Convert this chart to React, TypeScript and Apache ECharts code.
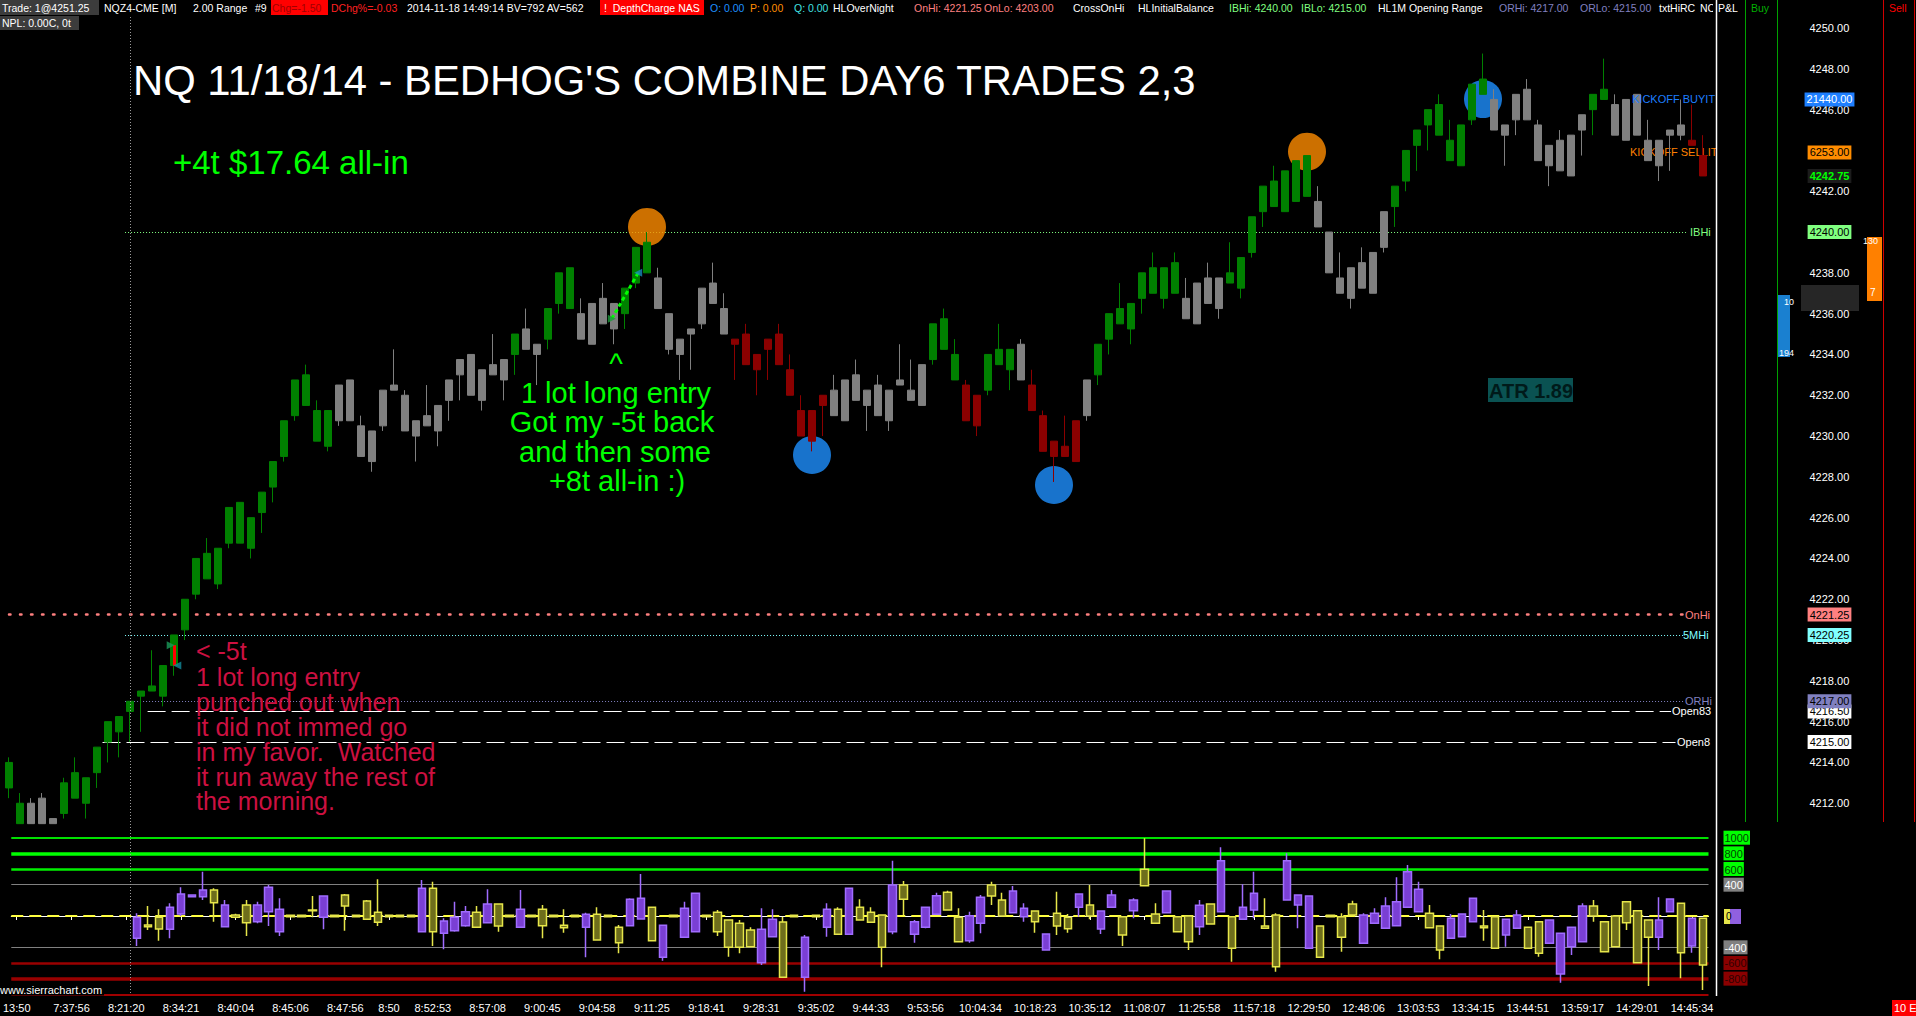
import React, { useEffect, useRef } from "react";
import * as echarts from "echarts";

const FONT = "'Liberation Sans', Arial, Helvetica, sans-serif";

// ---------- categories / tick labels ----------
const barIndex: string[] = Array.from({ length: 155 }, (_, i) => String(i));
const tickBars = [0, 5, 10, 15, 20, 25, 30, 34, 38, 43, 48, 53, 58, 63, 68, 73, 78, 83, 88, 93, 98, 103, 108, 113, 118, 123, 128, 133, 138, 143, 148, 153];
const tickLabels = ["13:50", "7:37:56", "8:21:20", "8:34:21", "8:40:04", "8:45:06", "8:47:56", "8:50", "8:52:53", "8:57:08", "9:00:45", "9:04:58", "9:11:25", "9:18:41", "9:28:31", "9:35:02", "9:44:33", "9:53:56", "10:04:34", "10:18:23", "10:35:12", "11:08:07", "11:25:58", "11:57:18", "12:29:50", "12:48:06", "13:03:53", "13:34:15", "13:44:51", "13:59:17", "14:29:01", "14:45:34"];

// ---------- main 2.00 range bars: [open, close, low, high] (visible part) ----------
const mainOHLC: number[][] = [
  [4212.75, 4214.0, 4212.25, 4214.25], [4211.0, 4212.0, 4211.0, 4212.5], [4212.0, 4211.0, 4211.0, 4212.25], [4212.25, 4211.0, 4211.0, 4212.5],
  [4211.25, 4211.0, 4211.0, 4211.25], [4211.5, 4213.0, 4211.25, 4213.25], [4212.25, 4213.5, 4212.25, 4214.25], [4212.0, 4213.25, 4211.25, 4213.25],
  [4213.5, 4214.75, 4212.75, 4214.75], [4215.0, 4216.0, 4214.0, 4216.0], [4215.5, 4216.25, 4214.25, 4216.25], [4216.5, 4217.0, 4215.0, 4217.0],
  [4217.25, 4217.5, 4215.5, 4217.5], [4217.5, 4217.75, 4217.5, 4219.5], [4217.25, 4218.75, 4216.75, 4218.75], [4218.75, 4220.25, 4218.25, 4220.25],
  [4220.5, 4222.0, 4220.0, 4222.0], [4222.25, 4224.0, 4222.0, 4224.0], [4223.0, 4224.25, 4223.0, 4225.0], [4222.75, 4224.5, 4222.5, 4224.5],
  [4224.75, 4226.5, 4224.5, 4226.5], [4224.75, 4226.75, 4224.75, 4226.75], [4224.5, 4226.0, 4224.0, 4226.0], [4226.25, 4227.25, 4225.25, 4227.25],
  [4227.5, 4228.75, 4226.75, 4228.75], [4229.0, 4230.75, 4228.75, 4230.75], [4231.0, 4232.75, 4230.75, 4232.75], [4231.5, 4233.0, 4231.5, 4233.5],
  [4229.75, 4231.25, 4229.75, 4231.75], [4229.5, 4231.25, 4229.25, 4231.25], [4232.5, 4230.75, 4230.5, 4232.5], [4232.75, 4230.75, 4230.75, 4232.75],
  [4230.5, 4229.0, 4229.0, 4231.0], [4230.25, 4228.75, 4228.25, 4230.25], [4232.25, 4230.5, 4230.25, 4232.25], [4232.5, 4232.25, 4232.25, 4234.25],
  [4232.0, 4230.25, 4230.25, 4232.25], [4230.75, 4230.0, 4228.75, 4230.75], [4231.0, 4230.5, 4230.5, 4232.5], [4231.5, 4230.25, 4229.5, 4231.5],
  [4232.75, 4231.75, 4230.75, 4232.75], [4233.75, 4233.0, 4231.75, 4233.75], [4234.0, 4232.0, 4232.0, 4234.0], [4233.25, 4231.75, 4231.25, 4233.25],
  [4233.5, 4233.0, 4233.0, 4235.0], [4233.75, 4232.75, 4231.75, 4233.75], [4234.0, 4235.0, 4233.0, 4235.0], [4235.25, 4234.25, 4234.25, 4236.25],
  [4234.5, 4234.0, 4232.5, 4234.5], [4234.75, 4236.25, 4234.25, 4236.25], [4236.5, 4238.0, 4236.0, 4238.0], [4236.25, 4238.25, 4236.25, 4238.25],
  [4236.0, 4234.75, 4234.75, 4236.75], [4236.5, 4234.5, 4234.5, 4236.5], [4236.75, 4235.5, 4235.5, 4237.5], [4236.5, 4235.25, 4234.5, 4236.5],
  [4236.0, 4237.25, 4235.25, 4237.25], [4237.5, 4239.25, 4237.25, 4239.25], [4238.0, 4239.5, 4238.0, 4240.0], [4237.75, 4236.25, 4236.25, 4238.25],
  [4236.0, 4234.25, 4234.0, 4236.0], [4234.75, 4234.0, 4232.75, 4234.75], [4235.25, 4235.0, 4233.25, 4235.25], [4237.25, 4235.5, 4235.25, 4237.25],
  [4237.5, 4236.5, 4236.5, 4238.5], [4236.25, 4235.0, 4235.0, 4237.0], [4234.75, 4234.5, 4232.75, 4234.75], [4235.0, 4233.5, 4233.5, 4235.5],
  [4234.0, 4233.25, 4232.0, 4234.0], [4234.75, 4234.25, 4232.75, 4234.75], [4235.0, 4233.5, 4233.5, 4235.5], [4233.25, 4232.0, 4232.0, 4234.0],
  [4231.25, 4230.0, 4230.0, 4232.0], [4231.25, 4229.75, 4229.25, 4231.25], [4232.0, 4231.5, 4230.0, 4232.0], [4232.25, 4231.0, 4231.0, 4233.0],
  [4232.75, 4230.75, 4230.75, 4232.75], [4233.0, 4231.75, 4231.75, 4233.75], [4232.25, 4231.5, 4230.25, 4232.25], [4232.5, 4231.0, 4231.0, 4233.0],
  [4232.25, 4230.75, 4230.25, 4232.25], [4232.75, 4232.5, 4232.5, 4234.5], [4232.25, 4231.75, 4231.75, 4233.75], [4233.5, 4231.5, 4231.5, 4233.5],
  [4233.75, 4235.5, 4233.5, 4235.5], [4234.25, 4235.75, 4234.25, 4236.25], [4232.75, 4234.0, 4232.75, 4234.75], [4232.5, 4230.75, 4230.75, 4232.75],
  [4232.0, 4230.5, 4230.0, 4232.0], [4232.25, 4234.0, 4232.0, 4234.0], [4233.5, 4234.25, 4233.5, 4235.5], [4233.25, 4234.25, 4232.25, 4234.25],
  [4234.5, 4232.75, 4232.75, 4234.75], [4232.5, 4231.25, 4231.25, 4233.25], [4231.0, 4229.25, 4229.25, 4231.25], [4229.75, 4229.0, 4227.75, 4229.75],
  [4229.5, 4229.0, 4229.0, 4231.0], [4230.75, 4228.75, 4228.75, 4230.75], [4232.75, 4231.0, 4230.75, 4232.75], [4233.0, 4234.5, 4232.5, 4234.5],
  [4234.75, 4236.0, 4234.0, 4236.0], [4235.5, 4236.25, 4235.5, 4237.5], [4235.25, 4236.5, 4234.5, 4236.5], [4236.75, 4238.0, 4236.0, 4238.0],
  [4237.0, 4238.25, 4237.0, 4239.0], [4236.75, 4238.25, 4236.25, 4238.25], [4237.0, 4238.5, 4237.0, 4239.0], [4236.75, 4235.75, 4235.75, 4237.75],
  [4237.5, 4235.5, 4235.5, 4237.5], [4237.75, 4236.5, 4236.5, 4238.5], [4237.75, 4236.25, 4235.75, 4237.75], [4237.5, 4238.0, 4237.5, 4239.5],
  [4237.25, 4238.75, 4236.75, 4238.75], [4239.0, 4240.75, 4238.75, 4240.75], [4241.0, 4242.25, 4240.25, 4242.25], [4241.25, 4242.5, 4241.25, 4243.25],
  [4241.0, 4243.0, 4241.0, 4243.0], [4241.5, 4243.5, 4241.5, 4243.5], [4241.75, 4243.75, 4241.75, 4243.75], [4241.5, 4240.25, 4240.25, 4242.25],
  [4240.0, 4238.0, 4238.0, 4240.0], [4237.75, 4237.0, 4237.0, 4239.0], [4238.25, 4236.75, 4236.25, 4238.25], [4238.5, 4237.25, 4237.25, 4239.25],
  [4239.0, 4237.0, 4237.0, 4239.0], [4241.0, 4239.25, 4239.0, 4241.0], [4241.25, 4242.25, 4240.25, 4242.25], [4242.5, 4244.0, 4242.0, 4244.0],
  [4244.25, 4245.0, 4243.0, 4245.0], [4245.25, 4246.0, 4244.0, 4246.0], [4244.75, 4246.25, 4244.75, 4246.75], [4243.5, 4244.5, 4243.5, 4245.5],
  [4243.25, 4245.25, 4243.25, 4245.25], [4245.5, 4247.25, 4245.25, 4247.25], [4246.75, 4247.5, 4246.75, 4248.75], [4246.5, 4245.0, 4245.0, 4247.0],
  [4245.25, 4244.75, 4243.25, 4245.25], [4246.75, 4245.5, 4244.75, 4246.75], [4247.0, 4245.5, 4245.5, 4247.5], [4245.25, 4243.5, 4243.5, 4245.5],
  [4244.25, 4243.25, 4242.25, 4244.25], [4244.5, 4243.0, 4243.0, 4245.0], [4244.75, 4242.75, 4242.75, 4244.75], [4245.75, 4245.0, 4243.75, 4245.75],
  [4246.0, 4246.75, 4244.75, 4246.75], [4246.5, 4247.0, 4246.5, 4248.5], [4246.25, 4244.75, 4244.75, 4246.75], [4246.5, 4244.5, 4244.5, 4246.5],
  [4246.75, 4244.75, 4244.75, 4246.75], [4244.5, 4243.5, 4243.5, 4245.5], [4244.5, 4243.25, 4242.5, 4244.5], [4245.0, 4244.75, 4243.0, 4245.0],
  [4245.25, 4244.75, 4244.5, 4246.5], [4244.5, 4244.25, 4244.25, 4246.25], [4243.75, 4242.75, 4242.75, 4244.75],
];

// trend colouring of each bar (g = up trend, x = neutral, r = down trend), as runs
const trendRuns: [string, number][] = [
  ["g", 2], ["x", 3], ["g", 25], ["x", 16], ["g", 1], ["x", 2], ["g", 3], ["x", 4], ["g", 3], ["x", 7], ["r", 9], ["x", 9], ["g", 3], ["r", 2],
  ["g", 3], ["x", 1], ["r", 5], ["x", 1], ["g", 8], ["x", 4], ["g", 8], ["x", 7], ["g", 9], ["x", 9], ["g", 2], ["x", 7], ["r", 2],
];

// ---------- price levels ----------
const levelIBHi = 4240.0;
const levelOnHi = 4221.25;
const level5MHi = 4220.25;
const levelORHi = 4217.0;
const levelOpen83 = 4216.5;
const levelOpen8 = 4215.0;
const lastPrice = 4242.75;
const kickoffBuy = 4246.5;
const kickoffSell = 4243.9;

// signal circles [bar, price]
const sellSignals: number[][] = [[58, 4240.25], [118, 4243.94]];
const buySignals: number[][] = [[73, 4229.07], [95, 4227.6], [134, 4246.52]];

// trades: [bar, price]
const trade1 = [[14.7, 4219.75], [15.3, 4218.75]];
const trade2 = [[54.8, 4235.75], [57.2, 4238.0]];

// ---------- lower study: [bar, boxTop, boxBottom, high, low, side] ----------
const deltaRows: any[][] = [
  [11, -17, -285, 34, -383, "P"], [12, -115, -136, 128, -179, "Y"], [13, -17, -166, 85, -315, "Y"], [14, 111, -170, 162, -285, "P"],
  [15, 281, 26, 366, 0, "P"], [16, 268, 247, 268, 247, "P"], [17, 332, 247, 566, 204, "P"], [18, 332, 170, 353, -72, "Y"],
  [19, 140, -136, 204, -136, "P"], [20, 13, -17, 30, -30, "Y"], [21, 140, -85, 204, -255, "Y"], [22, 140, -72, 183, -94, "P"],
  [23, 366, 55, 396, -128, "P"], [24, 85, -200, 226, -255, "P"], [25, 10, -10, 20, -20, "Y"], [26, 10, -10, 20, -20, "Y"],
  [27, 77, 68, 255, -17, "Y"], [28, 255, -17, 255, -170, "P"], [29, 10, -10, 20, -20, "Y"], [30, 268, 128, 281, -187, "Y"],
  [31, 10, -10, 20, -20, "Y"], [32, 192, -43, 204, -51, "Y"], [33, 47, -81, 468, -128, "Y"], [34, 10, -10, 20, -20, "Y"],
  [35, 10, -10, 20, -20, "Y"], [36, 10, -10, 20, -20, "Y"], [37, 353, -200, 460, -200, "P"], [38, 353, -200, 438, -383, "Y"],
  [39, -64, -221, -30, -426, "P"], [40, -17, -187, 183, -200, "P"], [41, 55, -123, 128, -136, "P"], [42, 47, -145, 128, -149, "Y"],
  [43, 153, -85, 341, -85, "P"], [44, 153, -128, 162, -200, "Y"], [45, 10, -10, 20, -20, "Y"], [46, 85, -145, 332, -145, "P"],
  [47, 10, -10, 20, -20, "Y"], [48, 85, -123, 140, -285, "Y"], [49, 10, -10, 20, -20, "Y"], [50, -119, -149, 85, -213, "Y"],
  [51, 10, -10, 20, -20, "Y"], [52, 21, -145, 43, -528, "P"], [53, 21, -307, 111, -307, "Y"], [54, 10, -10, 20, -20, "Y"],
  [55, -145, -341, -115, -477, "Y"], [56, 213, -123, 226, -123, "P"], [57, 226, -38, 536, -38, "P"], [58, 111, -315, 111, -315, "Y"],
  [59, -119, -528, -119, -570, "P"], [60, 10, -10, 20, -20, "Y"], [61, 98, -272, 183, -272, "P"], [62, 289, -200, 289, -200, "P"],
  [63, 10, -10, 20, -20, "Y"], [64, 47, -200, 77, -255, "Y"], [65, -51, -400, -51, -519, "Y"], [66, -94, -400, -51, -477, "Y"],
  [67, -179, -392, -145, -392, "Y"], [68, -170, -596, 98, -626, "P"], [69, -43, -264, 85, -264, "P"], [70, -77, -783, -8, -783, "Y"],
  [71, 10, -10, 20, -20, "Y"], [72, -272, -783, -243, -966, "P"], [73, 10, -10, 20, -20, "Y"], [74, 85, -145, 162, -264, "P"],
  [75, 85, -234, 111, -243, "Y"], [76, 353, -234, 353, -243, "P"], [77, 111, -51, 213, -51, "Y"], [78, 47, -81, 111, -81, "Y"],
  [79, 13, -400, 13, -656, "Y"], [80, 396, -200, 707, -234, "P"], [81, 396, 213, 447, 13, "Y"], [82, -72, -234, -51, -341, "P"],
  [83, 111, -145, 111, -157, "P"], [84, 260, 21, 298, 13, "P"], [85, 302, 77, 324, 68, "Y"], [86, -17, -328, 98, -328, "Y"],
  [87, 4, -315, 55, -341, "P"], [88, 238, -94, 268, -221, "P"], [89, 396, 255, 438, 140, "Y"], [90, 204, 0, 298, -8, "Y"],
  [91, 319, 43, 383, 43, "P"], [92, 98, -8, 162, -72, "P"], [93, 64, -72, 68, -213, "Y"], [94, -230, -434, -221, -434, "P"],
  [95, 34, -128, 311, -243, "Y"], [96, -17, -162, 26, -213, "Y"], [97, 281, 111, 281, -8, "P"], [98, 140, 0, 396, -43, "Y"],
  [99, 64, -166, 64, -230, "P"], [100, 268, 111, 332, 111, "P"], [101, -8, -243, -8, -383, "Y"], [102, 204, 68, 226, -30, "P"],
  [103, 596, 387, 992, 387, "Y"], [104, 26, -94, 162, -94, "Y"], [105, 319, 43, 319, 43, "P"], [106, -8, -200, -8, -200, "Y"],
  [107, 0, -328, 13, -434, "Y"], [108, 136, -136, 204, -243, "P"], [109, 153, -102, 153, -102, "Y"], [110, 707, 55, 877, 55, "P"],
  [111, -8, -413, -8, -583, "Y"], [112, 111, -43, 404, -43, "P"], [113, 289, 77, 566, -30, "P"], [114, -128, -157, 226, -157, "Y"],
  [115, 13, -647, 34, -711, "Y"], [116, 707, 204, 800, 204, "P"], [117, 268, 140, 268, -157, "P"], [118, 255, -413, 255, -413, "P"],
  [119, -128, -528, -128, -528, "Y"], [120, 10, -10, 20, -20, "Y"], [121, -8, -272, 34, -456, "Y"], [122, 153, 13, 196, 13, "Y"],
  [123, 13, -349, 34, -349, "P"], [124, 34, -94, 98, -94, "P"], [125, 128, -157, 238, -157, "P"], [126, 183, -123, 494, -123, "P"],
  [127, 566, 111, 651, 111, "P"], [128, 341, 55, 438, 55, "P"], [129, 34, -149, 140, -149, "Y"], [130, -128, -434, -128, -553, "Y"],
  [131, -30, -285, 26, -285, "P"], [132, 26, -264, 26, -264, "P"], [133, 226, -72, 226, -72, "P"], [134, -128, -149, 77, -315, "Y"],
  [135, -8, -413, -8, -413, "Y"], [136, -43, -243, -43, -392, "P"], [137, 13, -157, 77, -157, "P"], [138, -145, -413, -145, -413, "Y"],
  [139, -72, -477, -72, -519, "Y"], [140, -51, -349, -51, -349, "P"], [141, -221, -741, -221, -851, "P"], [142, -145, -392, -145, -498, "P"],
  [143, 128, -328, 162, -328, "P"], [144, 128, 0, 204, -72, "Y"], [145, -72, -456, -72, -456, "Y"], [146, 0, -392, 0, -392, "Y"],
  [147, 183, -85, 183, -179, "Y"], [148, 68, -596, 77, -596, "Y"], [149, -51, -272, -51, -894, "Y"], [150, -51, -272, 238, -434, "P"],
  [151, 217, 55, 217, 55, "P"], [152, 162, -468, 162, -796, "Y"], [153, -30, -383, -30, -468, "P"], [154, -30, -626, -30, -945, "Y"],
];
const deltaScaleLabels = [1000, 800, 600, 400, -400, -600, -800];

// ---------- styling ----------
const TREND_COLOR: Record<string, string> = { g: "#008000", x: "#808080", r: "#8b0000" };
const PRICE_MIN = 4210.9;
const PRICE_MAX = 4251.375;
const PX_PER_POINT = 20.4;

function buildOption() {
  const trend: string[] = [];
  trendRuns.forEach(([c, n]) => { for (let k = 0; k < n; k++) trend.push(c); });
  const mainData = mainOHLC.map((d, i) => {
    const c = TREND_COLOR[trend[i]] || "#808080";
    return { value: d, itemStyle: { color: c, color0: c, borderColor: c, borderColor0: c, borderColorDoji: c } };
  });
  const deltaData = deltaRows.map(([b, top, bot, hi, lo, s]) => {
    const yellow = s === "Y";
    const fill = yellow ? "#6e6e1c" : "#7a3fd4";
    const border = yellow ? "#e6e64a" : "#a06cff";
    return {
      value: yellow ? [b, bot, top, lo, hi] : [b, top, bot, lo, hi],
      itemStyle: { color: fill, color0: fill, borderColor: border, borderColor0: border, borderColorDoji: border },
    };
  });
  const labelMap: Record<number, string> = {};
  tickBars.forEach((b, k) => { labelMap[b] = tickLabels[k]; });
  const tickSet = new Set(tickBars);

  const lvl = (x0: number, x1: number, y: number, color: string, width: number, type: any, cap = "butt") => [
    { coord: [x0, y], lineStyle: { color, width, type, cap } },
    { coord: [x1, y] },
  ];
  const hl = (v: number, color: string, width: number, type: any = "solid") => ({ yAxis: v, lineStyle: { color, width, type } });

  return {
    animation: false,
    backgroundColor: "#000000",
    textStyle: { fontFamily: FONT },
    grid: [
      { left: 3.5, width: 1705, top: 0, height: (PRICE_MAX - PRICE_MIN) * PX_PER_POINT },
      { left: 3.5, width: 1705, top: 837.7, height: 156.6 },
    ],
    xAxis: [
      { type: "category", gridIndex: 0, data: barIndex, boundaryGap: true, show: false },
      {
        type: "category", gridIndex: 1, data: barIndex, boundaryGap: true, offset: 2,
        axisLine: { show: true, lineStyle: { color: "#ffffff", width: 1 } },
        axisTick: { show: true, alignWithLabel: true, length: 4, interval: (i: number) => tickSet.has(i), lineStyle: { color: "#ffffff" } },
        axisLabel: { interval: 0, color: "#ffffff", fontSize: 11, fontFamily: FONT, margin: 6, formatter: (v: string) => labelMap[Number(v)] ?? "" },
        splitLine: { show: false },
      },
      { type: "value", gridIndex: 0, min: -0.5, max: 154.5, show: false },
    ],
    yAxis: [
      {
        type: "value", gridIndex: 0, position: "right", min: PRICE_MIN, max: PRICE_MAX, splitNumber: 20,
        splitLine: { show: false }, axisLine: { show: false }, axisTick: { show: false },
        axisLabel: {
          color: "#ffffff", fontSize: 11, fontFamily: FONT, margin: 101, showMaxLabel: false, showMinLabel: false,
          formatter: (v: number) => (v >= 4212 && v <= 4250 && Math.abs(v / 2 - Math.round(v / 2)) < 1e-6 ? v.toFixed(2) : ""),
        },
      },
      {
        type: "value", gridIndex: 1, position: "right", min: -1000, max: 1000, interval: 200,
        splitLine: { show: false }, axisLine: { show: false }, axisTick: { show: false },
        axisLabel: {
          margin: 15, fontSize: 11, fontFamily: FONT,
          formatter: (v: number) => {
            if (!deltaScaleLabels.includes(v)) return "";
            const key = v >= 600 ? "g" : v <= -600 ? "r" : "n";
            return "{" + key + "|" + v + "}";
          },
          rich: {
            g: { backgroundColor: "#00ff00", color: "#004400", padding: [2, 1, 1, 1], fontSize: 11, fontFamily: FONT },
            n: { backgroundColor: "#808080", color: "#ffffff", padding: [2, 1, 1, 1], fontSize: 11, fontFamily: FONT },
            r: { backgroundColor: "#8b0000", color: "#300000", padding: [2, 1, 1, 1], fontSize: 11, fontFamily: FONT },
          },
        },
      },
    ],
    series: [
      {
        type: "scatter", name: "signals", xAxisIndex: 2, yAxisIndex: 0, z: 2, silent: true, symbol: "circle", symbolSize: 38,
        data: [
          ...sellSignals.map((p) => ({ value: p, itemStyle: { color: "#ff8c00" } })),
          ...buySignals.map((p) => ({ value: p, itemStyle: { color: "#1e90ff" } })),
        ],
        markLine: {
          silent: true, z: 1, symbol: ["none", "none"], label: { show: false }, animation: false,
          data: [
            lvl(10.55, 152.6, levelIBHi, "#80ff80", 1, [1, 2]),
            lvl(0, 152.2, levelOnHi, "#ff8080", 2.5, [1.5, 9.5], "round"),
            lvl(10.55, 152.2, level5MHi, "#80ffff", 1, [1, 2]),
            lvl(10.55, 152.2, levelORHi, "#8080c0", 1, [1, 2]),
            lvl(12.6, 151.1, levelOpen83, "#ffffff", 1.2, [18, 6]),
            lvl(8.5, 151.5, levelOpen8, "#ffffff", 1.2, [18, 6]),
          ],
        },
      },
      {
        type: "candlestick", name: "NQZ4", xAxisIndex: 0, yAxisIndex: 0, z: 3, silent: true, barWidth: 7, clip: true,
        itemStyle: { borderWidth: 1 }, data: mainData,
      },
      {
        type: "scatter", name: "trades", xAxisIndex: 2, yAxisIndex: 0, z: 4, silent: true, symbol: "triangle", symbolSize: 8,
        data: [
          { value: trade1[0], symbolRotate: -90, itemStyle: { color: "#1a9a5a" } },
          { value: trade1[1], symbolRotate: 90, itemStyle: { color: "#138a9a" } },
          { value: trade2[0], symbolRotate: -90, itemStyle: { color: "#1a9a3a" } },
          { value: trade2[1], symbolRotate: 90, itemStyle: { color: "#1888b8" } },
        ],
        markLine: {
          silent: true, z: 4, symbol: ["none", "none"], label: { show: false }, animation: false,
          data: [
            [{ coord: [15, trade1[0][1]], lineStyle: { color: "#ff0000", width: 3, type: "solid" } }, { coord: [15, trade1[1][1]] }],
            [{ coord: trade2[0], lineStyle: { color: "#00ff00", width: 3, type: [4, 3] } }, { coord: trade2[1] }],
          ],
        },
      },
      {
        type: "candlestick", name: "delta", xAxisIndex: 1, yAxisIndex: 1, z: 7, silent: true, barWidth: 8,
        encode: { x: 0, y: [1, 2, 3, 4] }, itemStyle: { borderWidth: 1.5 }, data: deltaData,
        markLine: {
          silent: true, z: 6, symbol: ["none", "none"], label: { show: false }, animation: false,
          data: [
            hl(1000, "#00e000", 2), hl(800, "#00ff00", 3.5), hl(600, "#00f000", 2.5), hl(400, "#808080", 1.2),
            hl(0, "#ffff40", 2, [12, 6]), hl(-400, "#808080", 1.2), hl(-600, "#990000", 2.5), hl(-800, "#990000", 3.5), hl(-1000, "#a00000", 2),
          ],
        },
      },
    ],
  };
}

function buildGraphics(py: (p: number) => number) {
  const els: any[] = [];
  const T = (x: number, y: number, text: string, fill: string, size = 11, o: any = {}) =>
    els.push({
      type: "text", x, y, silent: true, z: o.z ?? 20,
      style: {
        text, fill, fontSize: size, fontFamily: FONT, fontWeight: o.bold ? "bold" : "normal",
        align: o.align || "left", textAlign: o.align || "left", verticalAlign: "middle", textVerticalAlign: "middle",
        backgroundColor: o.bg, padding: o.pad, lineHeight: o.lh,
      },
    });
  const R = (x: number, y: number, w: number, h: number, fill: string, z = 19) =>
    els.push({ type: "rect", silent: true, z, shape: { x, y, width: w, height: h }, style: { fill } });
  const L = (x1: number, y1: number, x2: number, y2: number, stroke: string, lw = 1, dash: any = null, z = 21) =>
    els.push({ type: "line", silent: true, z, shape: { x1, y1, x2, y2 }, style: { stroke, lineWidth: lw, lineDash: dash } });
  const H = 10.5; // header font size

  // cover beside the right edge
  R(1717, 30, 27, 792, "#000000", 4);

  // header row 1
  R(0, 0, 99, 15, "#3c3c3c");
  T(2, 8, "Trade: 1@4251.25", "#ffffff", H);
  T(104, 8, "NQZ4-CME [M]", "#ffffff", H);
  T(193, 8, "2.00 Range", "#ffffff", H);
  T(255, 8, "#9", "#ffffff", H);
  R(271, 0, 57, 15, "#ff0000");
  T(272, 8, "Chg=-1.50", "#a00000", H);
  T(331, 8, "DChg%=-0.03", "#ff2020", H);
  T(407, 8, "2014-11-18 14:49:14 BV=792 AV=562", "#ffffff", H);
  R(600, 0, 104, 15, "#ff0000");
  T(604, 8, "!  DepthCharge NAS", "#ffffff", H);
  T(710, 8, "O: 0.00", "#1e90ff", H);
  T(750, 8, "P: 0.00", "#ff8c00", H);
  T(794, 8, "Q: 0.00", "#40e0e0", H);
  T(833, 8, "HLOverNight", "#ffffff", H);
  T(914, 8, "OnHi: 4221.25", "#ff8080", H);
  T(984, 8, "OnLo: 4203.00", "#ff8080", H);
  T(1073, 8, "CrossOnHi", "#ffffff", H);
  T(1138, 8, "HLInitialBalance", "#ffffff", H);
  T(1229, 8, "IBHi: 4240.00", "#80ff80", H);
  T(1301, 8, "IBLo: 4215.00", "#80ff80", H);
  T(1378, 8, "HL1M Opening Range", "#ffffff", H);
  T(1499, 8, "ORHi: 4217.00", "#8080c0", H);
  T(1580, 8, "ORLo: 4215.00", "#8080c0", H);
  T(1659, 8, "txtHiRC", "#ffffff", H);
  T(1700, 8, "NC", "#ffffff", H);
  R(1713, 0, 4, 15, "#000000", 20.5);
  T(1718, 8, "P&L", "#ffffff", H);
  T(1751, 8, "Buy", "#00b000", H);
  T(1889, 8, "Sell", "#ff0000", H);
  // header row 2
  R(0, 16, 79, 14, "#3c3c3c");
  T(2, 23, "NPL: 0.00C, 0t", "#ffffff", H);

  // right side separators
  L(1716.5, 0, 1716.5, 996, "#ffffff", 1.5);
  L(1745.5, 0, 1745.5, 822, "#00a000", 1);
  L(1777.5, 0, 1777.5, 822, "#00a000", 1);
  L(1883.5, 0, 1883.5, 822, "#d00000", 1);
  L(1914.5, 0, 1914.5, 822, "#d00000", 1);
  // session start line
  L(130.5, 17, 130.5, 994, "#9a9a9a", 1, [1, 2]);

  // title and notes
  T(133, 80, "NQ 11/18/14 - BEDHOG'S COMBINE DAY6 TRADES 2,3", "#ffffff", 41.8);
  T(173, 162, "+4t $17.64 all-in", "#00ff00", 33);
  T(616, 364, "^", "#00ff00", 29, { align: "center", lh: 29 });
  T(616, 392.5, "1 lot long entry", "#00ff00", 29, { align: "center", lh: 29 });
  T(612, 422, "Got my -5t back", "#00ff00", 29, { align: "center", lh: 29 });
  T(615, 451.5, "and then some", "#00ff00", 29, { align: "center", lh: 29 });
  T(617, 480.5, "+8t all-in :)", "#00ff00", 29, { align: "center", lh: 29 });
  const red = "#cc1040";
  const redLines = ["< -5t", "1 lot long entry", "punched out when", "it did not immed go", "in my favor.  Watched", "it run away the rest of", "the morning."];
  const redY = [651, 677, 702, 727, 751.5, 777, 801];
  redLines.forEach((s, k) => T(196, redY[k], s, red, 25, { lh: 24 }));

  // ATR box
  R(1488, 378, 85, 24, "#0a5252", 19);
  T(1489, 390.5, "ATR 1.89", "#001a1a", 20, { bold: true });

  // level names
  T(1690, py(levelIBHi), "IBHi", "#80ff80");
  T(1685, py(levelOnHi), "OnHi", "#ff8080");
  T(1683, py(level5MHi), "5MHi", "#80ffff");
  T(1685, py(levelORHi), "ORHi", "#8080c0");
  T(1672, py(levelOpen83), "Open83", "#ffffff");
  T(1677, py(levelOpen8), "Open8", "#ffffff");
  T(1632, py(kickoffBuy), "KICKOFF BUYIT", "#1e7fff", 11, { z: 20 });
  T(1630, py(kickoffSell), "KICKOFF SELLIT", "#ff8000", 11, { z: 2 });

  // price-scale markers
  R(1801, 285, 58, 26, "#262626", -1);
  R(1778, 295, 12, 62, "#1a80d0", 19);
  T(1784, 302, "10", "#ffffff", 9);
  T(1779, 353, "194", "#ffffff", 9);
  R(1867, 237, 15, 64, "#ff8000", 19);
  T(1863, 241, "130", "#ffffff", 9);
  T(1870, 292, "7", "#ffffff", 10);
  const box = (p: number, text: string, bg: string, fill: string, bold = false) =>
    T(1829.5, py(p), text, fill, 11, { bg, pad: [2, 2, 1, 2], align: "center", bold, z: 22 });
  box(kickoffBuy, "21440.00", "#1e7fff", "#ffffff");
  box(kickoffSell, "6253.00", "#ff8c00", "#000000");
  box(lastPrice, "4242.75", "#1c1c1c", "#00ff00", true);
  box(levelIBHi, "4240.00", "#80ff80", "#000000");
  box(levelOnHi, "4221.25", "#ff8080", "#000000");
  box(level5MHi, "4220.25", "#80ffff", "#000000");
  box(levelOpen83, "4216.50", "#ffffff", "#000000");
  box(levelORHi, "4217.00", "#8080c0", "#000000");
  box(levelOpen8, "4215.00", "#ffffff", "#000000");

  // lower panel extras
  T(0, 990, "www.sierrachart.com", "#ffffff", 11, { bg: "#000000", pad: [0, 2, 0, 0] });
  R(1724, 909, 6, 15, "#e6e64a", 19);
  R(1730, 909, 11, 15, "#9060e0", 19);
  T(1726, 916.5, "0", "#000000", 10);
  R(1892, 1000, 24, 16, "#ff0000", 19);
  T(1894, 1008, "10 E", "#ffffff", 11);
  return els;
}

export default function App() {
  const ref = useRef<HTMLDivElement>(null);
  useEffect(() => {
    if (!ref.current) return;
    const chart = echarts.init(ref.current, null, { renderer: "svg" });
    chart.setOption(buildOption() as any);
    const py = (p: number) => chart.convertToPixel({ yAxisIndex: 0 } as any, p) as unknown as number;
    chart.setOption({ graphic: { elements: buildGraphics(py) } } as any);
    return () => chart.dispose();
  }, []);
  return <div ref={ref} style={{ position: "fixed", left: 0, top: 0, width: 1916, height: 1016, background: "#000" }} />;
}
